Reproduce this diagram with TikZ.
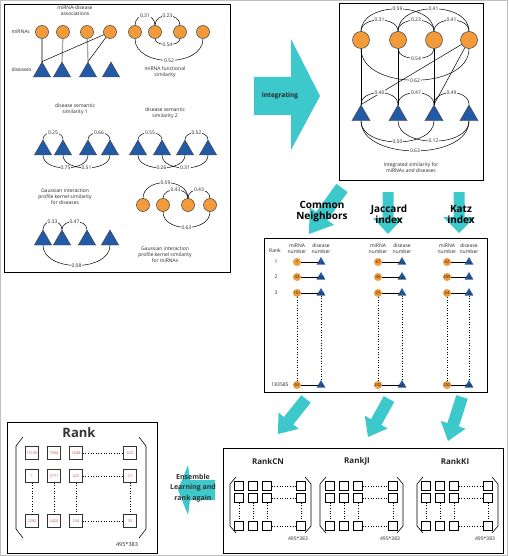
\documentclass[tikz,border=0pt]{standalone}
\usepackage{fontspec}
\setmainfont{Open Sans}
\usetikzlibrary{shapes.geometric,calc}
\definecolor{orng}{HTML}{F39B3A}
\definecolor{tblue}{HTML}{235AA5}
\definecolor{turq}{HTML}{3DC8CC}
\definecolor{rankred}{HTML}{C0504D}
\tikzset{
  mi/.style={circle, fill=orng, draw=black!75, line width=0.5pt, minimum size=13pt, inner sep=0pt},
  bigmi/.style={mi, minimum size=17pt},
  dis/.style={regular polygon, regular polygon sides=3, fill=tblue, draw=black!75, line width=0.4pt, minimum size=20pt, inner sep=0pt},
  bigdis/.style={dis, minimum size=21pt},
  lab/.style={font=\fontsize{5}{5}\selectfont, fill=white, inner sep=0.6pt, text=black!85},
  txt/.style={font=\fontsize{5}{6}\selectfont, align=center, text=black!85},
  edge/.style={line width=0.5pt},
  panel/.style={draw=black, line width=0.8pt},
  bigtitle/.style={font=\fontsize{10}{11}\selectfont\bfseries, align=center},
  mtitle/.style={font=\fontsize{8}{9}\selectfont\bfseries, text=black!85},
  smi/.style={circle, fill=orng, minimum size=8pt, inner sep=0pt},
  sdis/.style={regular polygon, regular polygon sides=3, fill=tblue, minimum size=10pt, inner sep=0pt},
  num/.style={font=\fontsize{4.3}{4.3}\selectfont, inner sep=0pt, text=black!85},
  sq/.style={draw=black, line width=0.6pt, minimum size=9pt, inner sep=0pt},
  rsq/.style={draw=black!80, line width=0.6pt, minimum size=13pt, inner sep=0pt, font=\fontsize{3.8}{4}\selectfont, text=rankred},
  dots/.style={dotted, line width=0.6pt},
}
\newcommand\myarcup[4]{\draw[edge] (#1.north) .. controls ($(#1.north)+(0,-#3)$) and ($(#2.north)+(0,-#3)$) .. node[lab]{#4} (#2.north);}
\newcommand\myarcdn[4]{\draw[edge] (#1.south) .. controls ($(#1.south)+(0,#3)$) and ($(#2.south)+(0,#3)$) .. node[lab]{#4} (#2.south);}
\newcommand\myblockarrow[5]{% start, end, half shaft, half head, head length
  \coordinate (ba-A) at #1; \coordinate (ba-B) at #2;
  \coordinate (ba-H) at ($(ba-B)!#5pt!(ba-A)$);
  \fill[turq] ($(ba-A)!#3pt!90:(ba-B)$) -- ($(ba-H)!#3pt!-90:(ba-A)$) -- ($(ba-H)!#4pt!-90:(ba-A)$) -- (ba-B) -- ($(ba-H)!#4pt!90:(ba-A)$) -- ($(ba-H)!#3pt!90:(ba-A)$) -- ($(ba-A)!#3pt!-90:(ba-B)$) -- cycle;}
\begin{document}
\begin{tikzpicture}[x=1pt,y=-1pt]
\useasboundingbox (0,0) rectangle (508,556);
\fill[white] (0,0) rectangle (508,556);
\draw[black!25, line width=1pt] (0.5,0.5) rectangle (507.5,555.5);

%% ---------- Panel 1 ----------
\draw[panel] (4,4) rectangle (230,272);
\node[txt] (t-assoc) at (75,11) {miRNA-disease\\associations};
\node[txt, anchor=west] (t-mirnas) at (8,32) {miRNAs};
\node[txt, anchor=west] (t-dis) at (8,70) {diseases};
\foreach \i/\x in {1/42,2/63,3/87,4/110} {\node[mi] (a\i) at (\x,32) {};}
\foreach \i/\x in {1/42,2/62,3/88,4/111} {\node[dis] (b\i) at (\x,72) {};}
\draw[black!35, line width=1.2pt] (a1) -- (b1.north);
\draw[black!35, line width=1.2pt] (a2) -- (b2.north);
\draw[black!35, line width=1.2pt] (a3) -- (b3.north);
\draw[edge] (a4) -- (b1.north);
\draw[edge] (a4) -- (b3.north);

\foreach \i/\x in {1/135,2/155,3/180,4/203} {\node[mi] (f\i) at (\x,32) {};}
\myarcdn{f1}{f4}{29}{0.52}
\myarcup{f1}{f2}{13}{0.31}
\myarcup{f2}{f3}{13}{0.23}
\myarcdn{f2}{f3}{8}{0.54}
\node[txt] (t-func) at (165,72) {miRNA functional\\similarity};

\node[txt] (t-sem1) at (75,109) {disease semantic\\similarity 1};
\foreach \i/\x in {1/43,2/63,3/88,4/110} {\node[dis] (s\i) at (\x,150) {};}
\myarcup{s1}{s2}{9.5}{0.25}
\myarcup{s3}{s4}{9.5}{0.66}
\myarcdn{s1}{s3}{17}{0.75}
\myarcdn{s2}{s4}{17}{0.51}

\node[txt] (t-sem2) at (165,113) {disease semantic\\similarity 2};
\foreach \i/\x in {1/138,2/162,3/185,4/208} {\node[dis] (r\i) at (\x,150) {};}
\myarcup{r1}{r2}{9.5}{0.55}
\myarcup{r3}{r4}{9.5}{0.52}
\myarcdn{r1}{r3}{17}{0.26}
\myarcdn{r2}{r4}{17}{0.31}

\node[txt] (t-gipd) at (65,197) {Gaussian interaction\\profile kernel similarity\\for diseases};
\foreach \i/\x in {1/43,2/62,3/87,4/110} {\node[dis] (g\i) at (\x,240) {};}
\myarcdn{g1}{g4}{27}{0.08}
\myarcup{g1}{g2}{11}{0.33}
\myarcup{g2}{g3}{11}{0.47}

\foreach \i/\x in {1/143,2/163,3/188,4/210} {\node[mi] (m\i) at (\x,205) {};}
\myarcup{m1}{m3}{21}{0.59}
\myarcup{m2}{m3}{11.5}{0.43}
\myarcup{m3}{m4}{11.5}{0.43}
\myarcdn{m2}{m4}{21}{0.63}
\node[txt] (t-gipm) at (165,255) {Gaussian interaction\\profile kernel similarity\\for miRNAs};

%% ---------- integrating arrow ----------
\fill[turq] (254,77) -- (291,77) -- (291,39) -- (320,96) -- (291,150) -- (291,115) -- (254,115) -- cycle;
\node[font=\fontsize{6.5}{7}\selectfont\bfseries, text=black!85] (t-integ) at (280,96) {integrating};

%% ---------- Panel 2 ----------
\draw[panel] (339,3) rectangle (483,180);
\foreach \i/\x in {1/361,2/398,3/434,4/469} {\node[bigmi] (p\i) at (\x,40) {};}
\foreach \i/\x in {1/361,2/398,3/434,4/469} {\node[bigdis] (q\i) at (\x,115.5) {};}
\draw[edge] (p1) -- (q1.north);
\draw[edge] (p2) -- (q2.north);
\draw[edge] (p3) -- (q3.north);
\draw[edge] (p4) -- (q1.north);
\draw[edge] (p4) -- (q3.north);
\myarcup{p1}{p3}{30}{0.59}
\myarcup{p2}{p4}{30}{0.41}
\myarcup{p1}{p2}{15}{0.31}
\myarcup{p2}{p3}{15}{0.23}
\myarcup{p3}{p4}{15}{0.41}
\myarcdn{p1}{p4}{42}{0.62}
\myarcdn{p2}{p3}{13}{0.54}
\myarcup{q1}{q2}{16}{0.40}
\myarcup{q2}{q3}{16}{0.47}
\myarcup{q3}{q4}{16}{0.49}
\myarcdn{q1}{q4}{40}{0.63}
\myarcdn{q1}{q3}{28}{0.50}
\myarcdn{q2}{q4}{27}{0.12}
\node[txt] (t-integsim) at (411,168) {Integrated similarity for\\miRNAs and diseases};

%% ---------- method arrows ----------
\myblockarrow{(342,188)}{(309,234)}{7}{15}{22}
\myblockarrow{(388,192)}{(388,234)}{5.5}{15}{16}
\myblockarrow{(459,192)}{(459,233)}{5.5}{16}{16}
\node[bigtitle] (t-cn) at (322,212) {Common\\Neighbors};
\node[bigtitle] (t-ji) at (389,214) {Jaccard\\index};
\node[bigtitle] (t-ki) at (461,214) {Katz\\index};

%% ---------- Middle panel ----------
\draw[panel] (264,238) rectangle (487,392);
\node[txt] (t-rank) at (275,251) {Rank};
\foreach \m/\cx/\tx in {cn/297/321, ji/378/402, kz/447/469} {
  \node[txt] (\m-hc) at (\cx,248.5) {miRNA\\number};
  \node[txt] (\m-ht) at (\tx,248.5) {disease\\number};
  \foreach \r/\y in {1/262,2/277,3/293,4/385} {
    \node[smi] (\m c\r) at (\cx,\y) {};
    \node[sdis] (\m t\r) at (\tx,\y) {};
    \draw[line width=0.6pt] (\m c\r) -- (\m t\r);
  }
  \draw[dots] (\m c3) -- (\m c4);
  \draw[dots] (\m t3) -- (\m t4);
}
\foreach \r/\y/\lab in {1/262/1, 2/277/2, 3/293/3} {\node[txt] (rk\r) at (276,\y) {\lab};}
\node[txt] (rk4) at (280,385) {183585};
\foreach \m/\r/\a/\b in {cn/1/1/16, cn/2/43/244, cn/3/151/244, cn/4/65/16,
  ji/1/67/16, ji/2/46/244, ji/3/25/11, ji/4/242/341,
  kz/1/42/16, kz/2/459/16, kz/3/64/16, kz/4/252/182} {
  \node[num] at (\m c\r) {\a};
  \node[num] at ($(\m t\r)+(0,0.5)$) {\b};
}

%% ---------- down arrows ----------
\myblockarrow{(306,399)}{(278,434)}{6}{13}{17}
\myblockarrow{(389,399)}{(368,437)}{6}{13}{17}
\myblockarrow{(462,397)}{(448,441)}{6}{13}{17}

%% ---------- bottom-right panel ----------
\draw[panel] (223,448) rectangle (503,553);
\node[mtitle] (t-rcn) at (268,461) {RankCN};
\node[mtitle] (t-rji) at (357,461) {RankJI};
\node[mtitle] (t-rki) at (455,461) {RankKI};
\foreach \p/\xa/\xb/\xc/\xd/\bl/\br in {cn/239/253/267/301/230/311, ji/330/344/358/393/320/403, ki/426/440/454/488/417/498} {
  \foreach \c/\x in {1/\xa,2/\xb,3/\xc,4/\xd} {
    \foreach \r/\y in {1/486,2/498,3/526} {\node[sq] (\p-\r-\c) at (\x,\y) {};}
    \draw[dots] (\p-2-\c) -- (\p-3-\c);
  }
  \foreach \r in {1,2,3} {\draw[dots] (\p-\r-3) -- (\p-\r-4);}
  \draw[line width=0.6pt] (\bl+6,477) -- (\bl,484) -- (\bl,526) -- (\bl+6,533);
  \draw[line width=0.6pt] (\br-6,477) -- (\br,484) -- (\br,526) -- (\br-6,533);
  \node[txt] (\p-size) at (\xd-3,539) {495*383};
}

%% ---------- Ensemble arrow ----------
\fill[turq] (215,480) -- (190,480) -- (188,465) -- (178,490) -- (188,515) -- (190,500) -- (215,500) -- cycle;
\node[font=\fontsize{7}{10.5}\selectfont\bfseries, align=center, text=black!80] (t-ens) at (193,488) {Ensemble\\Learning and\\rank again};

%% ---------- Rank panel ----------
\draw[panel] (7,422) rectangle (157,553);
\node[font=\fontsize{13}{14}\selectfont\bfseries, text=black!80] (t-bigrank) at (79,433) {Rank};
\foreach \r/\y/\va/\vb/\vc/\vd in {1/453/13150/7564/2340/423, 2/476/1/5771/425/21, 3/521/2282/2424/234/33} {
  \node[rsq] (R-\r-1) at (32,\y) {\va};
  \node[rsq] (R-\r-2) at (54,\y) {\vb};
  \node[rsq] (R-\r-3) at (76,\y) {\vc};
  \node[rsq] (R-\r-4) at (130,\y) {\vd};
  \draw[dots] (R-\r-3) -- (R-\r-4);
}
\foreach \c in {1,2,3,4} {\draw[dots] (R-2-\c) -- (R-3-\c);}
\draw[line width=0.6pt] (23,437) -- (16,446) -- (16,529) -- (23,538);
\draw[line width=0.6pt] (139,437) -- (146,446) -- (146,529) -- (139,538);
\node[font=\fontsize{5.5}{6}\selectfont, text=black!85] (t-bigsize) at (127,544) {495*383};
\end{tikzpicture}
\end{document}
